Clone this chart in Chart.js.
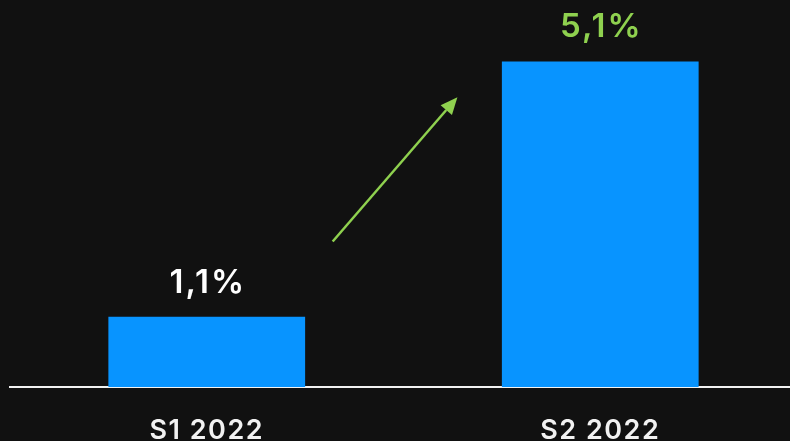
<!DOCTYPE html>
<html>
<head>
<meta charset="utf-8">
<script src="https://cdn.jsdelivr.net/npm/chart.js@4/dist/chart.umd.min.js"></script>
<style>
  html, body { margin: 0; padding: 0; background: #111111; overflow: hidden; width: 790px; height: 441px; }
  canvas { display: block; }
</style>
</head>
<body>
<canvas id="c" width="797" height="441"></canvas>
<script>
const categories = ['S1 2022', 'S2 2022'];
const values = [1.1, 5.1];
const valueLabels = ['1,1%', '5,1%'];
const labelColors = ['#ffffff', '#8fd14f'];
// arrow annotation in data units: [category index, value]
const arrowFrom = [0.32, 2.28];
const arrowTo = [0.637, 4.54];

const spacingPlugin = {
  id: 'spacing',
  beforeDraw(chart) { chart.ctx.letterSpacing = '1.5px'; }
};

const valueLabelPlugin = {
  id: 'valueLabels',
  afterDatasetsDraw(chart) {
    const ctx = chart.ctx;
    const meta = chart.getDatasetMeta(0);
    ctx.save();
    ctx.letterSpacing = '2px';
    ctx.font = '600 33px Inter, sans-serif';
    ctx.textAlign = 'center';
    ctx.textBaseline = 'alphabetic';
    meta.data.forEach((bar, i) => {
      ctx.fillStyle = labelColors[i];
      ctx.fillText(valueLabels[i], bar.x + 1, bar.y - 24);
    });
    // arrow
    const xs = chart.scales.x, ys = chart.scales.y;
    const x1 = xs.getPixelForValue(arrowFrom[0]), y1 = ys.getPixelForValue(arrowFrom[1]);
    const x2 = xs.getPixelForValue(arrowTo[0]), y2 = ys.getPixelForValue(arrowTo[1]);
    const ang = Math.atan2(y2 - y1, x2 - x1);
    const headLen = 17, headW = 7.5;
    const bx = x2 - headLen * Math.cos(ang), by = y2 - headLen * Math.sin(ang);
    ctx.strokeStyle = '#8fd14f';
    ctx.fillStyle = '#8fd14f';
    ctx.lineWidth = 2.5;
    ctx.beginPath();
    ctx.moveTo(x1, y1);
    ctx.lineTo(bx, by);
    ctx.stroke();
    ctx.beginPath();
    ctx.moveTo(x2, y2);
    ctx.lineTo(bx + headW * Math.sin(ang), by - headW * Math.cos(ang));
    ctx.lineTo(bx - headW * Math.sin(ang), by + headW * Math.cos(ang));
    ctx.closePath();
    ctx.fill();
    ctx.restore();
  }
};

new Chart(document.getElementById('c'), {
  type: 'bar',
  data: {
    labels: categories,
    datasets: [{
      data: values,
      backgroundColor: '#0894ff',
      borderWidth: 0,
      barPercentage: 0.5,
      categoryPercentage: 1.0
    }]
  },
  options: {
    responsive: false,
    animation: false,
    devicePixelRatio: 1,
    layout: { padding: { left: 10, top: 4, right: 0, bottom: 0 } },
    plugins: { legend: { display: false }, tooltip: { enabled: false } },
    scales: {
      x: {
        grid: { display: false, drawTicks: false },
        border: { display: true, color: '#f2f2f2', width: 2 },
        afterFit(scale) { scale.height = 54; },
        ticks: {
          color: '#f2f2f2',
          padding: 28,
          font: { family: 'Inter, sans-serif', size: 27, weight: '600' }
        }
      },
      y: {
        display: false,
        min: 0,
        max: 6
      }
    }
  },
  plugins: [spacingPlugin, valueLabelPlugin]
});
</script>
</body>
</html>
